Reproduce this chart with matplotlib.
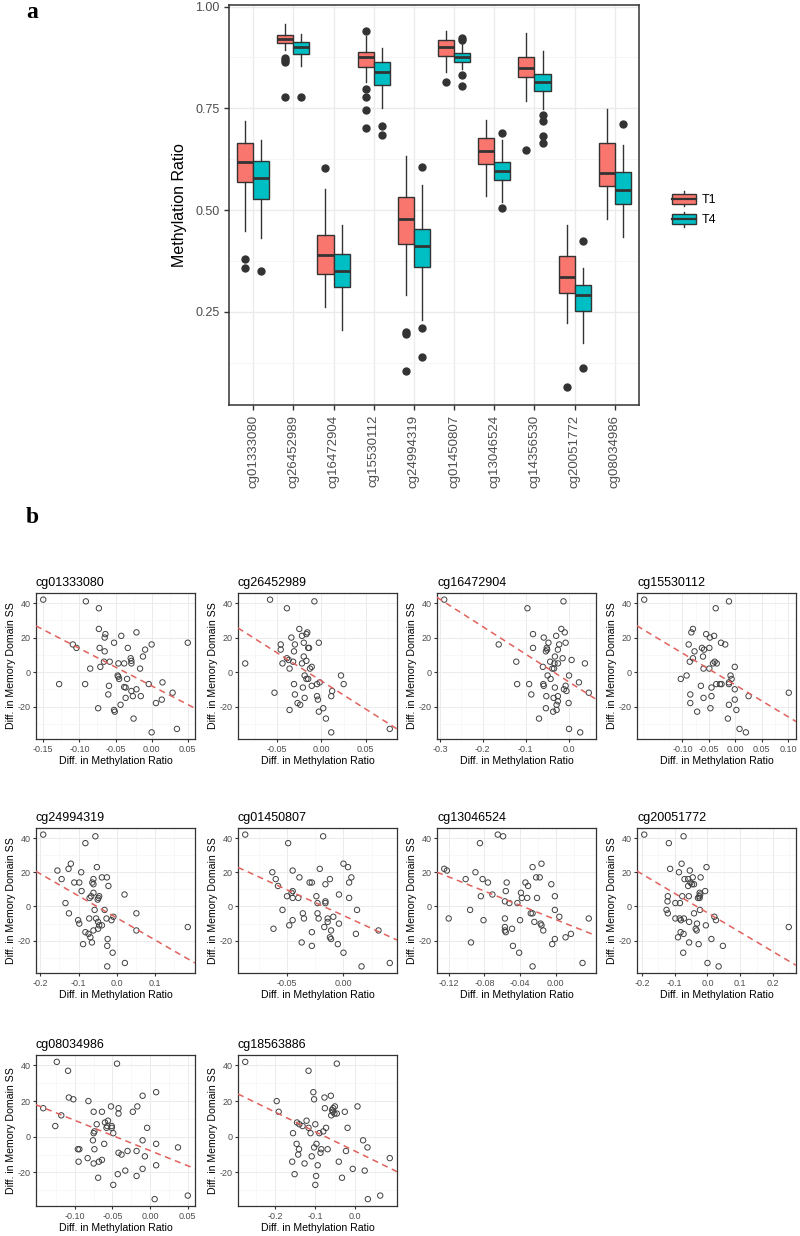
import numpy as np
import matplotlib
matplotlib.use('Agg')
import matplotlib.pyplot as plt
from matplotlib.patches import Rectangle, Patch
from matplotlib.lines import Line2D
from matplotlib.legend_handler import HandlerBase
from matplotlib.ticker import FixedLocator

plt.rcParams['font.family'] = ['Liberation Sans', 'DejaVu Sans']
plt.rcParams['axes.unicode_minus'] = False

# ---- panel a: box summaries ----
probes = ['cg01333080', 'cg26452989', 'cg16472904', 'cg15530112', 'cg24994319',
          'cg01450807', 'cg13046524', 'cg14356530', 'cg20051772', 'cg08034986']

t1_whishi = [0.719, 0.958, 0.553, 0.929, 0.632, 0.940, 0.722, 0.935, 0.463, 0.749]
t1_q3 = [0.666, 0.931, 0.440, 0.888, 0.533, 0.918, 0.678, 0.876, 0.388, 0.665]
t1_med = [0.617, 0.921, 0.389, 0.877, 0.477, 0.902, 0.645, 0.849, 0.335, 0.592]
t1_q1 = [0.569, 0.910, 0.342, 0.851, 0.417, 0.879, 0.613, 0.827, 0.296, 0.560]
t1_whislo = [0.448, 0.893, 0.261, 0.815, 0.292, 0.839, 0.534, 0.768, 0.222, 0.477]
t1_out = [[0.379, 0.357], [0.874, 0.869, 0.865, 0.778], [0.604],
          [0.941, 0.798, 0.778, 0.747, 0.702], [0.200, 0.195, 0.105], [0.816],
          [], [0.647], [0.065], []]

t4_whishi = [0.673, 0.933, 0.463, 0.898, 0.561, 0.908, 0.673, 0.892, 0.357, 0.659]
t4_q3 = [0.621, 0.913, 0.391, 0.863, 0.453, 0.886, 0.619, 0.835, 0.315, 0.593]
t4_med = [0.578, 0.900, 0.350, 0.839, 0.412, 0.876, 0.596, 0.816, 0.292, 0.549]
t4_q1 = [0.527, 0.884, 0.311, 0.807, 0.361, 0.864, 0.574, 0.792, 0.253, 0.516]
t4_whislo = [0.432, 0.855, 0.206, 0.752, 0.230, 0.847, 0.520, 0.749, 0.173, 0.433]
t4_out = [[0.351], [0.778], [], [0.707, 0.685], [0.606, 0.209, 0.139],
          [0.922, 0.917, 0.831, 0.804], [0.690, 0.505], [0.733, 0.719, 0.681, 0.665],
          [0.425, 0.112], [0.711]]

groups = ['T1', 'T4']
group_colors = ['#F8766D', '#00BFC4']

# ---- panel b: scatter values (diff. methylation ratio vs diff. memory SS) ----
x_cg01333080 = [-0.150, -0.091, -0.073, -0.073, -0.064, -0.065, -0.021, -0.042, -0.052, 0.050,
                0.000, -0.109, -0.104, -0.072, -0.033, -0.009, -0.065, -0.012, -0.029, -0.028,
                -0.058, -0.066, -0.046, -0.038, -0.028, -0.085, -0.071, -0.016, -0.047, -0.046,
                -0.045, -0.034, -0.128, -0.092, -0.004, 0.015, -0.059, -0.038, -0.036, -0.021,
                -0.028, -0.060, -0.026, -0.015, -0.036, 0.014, 0.029, 0.006, -0.043, -0.074,
                -0.052, -0.051, -0.025, 0.000, 0.035]
y_cg01333080 = [42, 41, 37, 25, 22, 20, 23, 21, 17, 17, 16, 16, 14, 14, 14, 13, 12, 9, 8, 6.5,
                6, 6, 5, 5, 5, 2, 3, 2, -2, -2.7, -4, -4, -7, -7, -7, -6, -8, -8.7, -9, -10,
                -11, -13, -14, -14, -15, -16, -12, -18, -19, -21, -22, -23, -27, -35, -33]

x_cg26452989 = [-0.086, -0.058, -0.039, -0.008, -0.025, -0.034, -0.022, -0.016, -0.017, -0.046,
                -0.030, -0.020, -0.003, -0.046, -0.031, -0.015, -0.014, -0.020, -0.039, -0.037,
                -0.032, -0.017, -0.022, -0.044, -0.011, -0.036, -0.013, -0.019, 0.022, -0.017,
                -0.015, -0.002, -0.031, 0.025, -0.005, -0.011, -0.021, 0.012, -0.053, -0.030,
                -0.005, 0.011, -0.019, -0.004, -0.027, -0.024, 0.002, -0.003, -0.036, 0.005,
                0.077, 0.011]
y_cg26452989 = [5, 42, 37, 41, 25, 20, 21, 23, 22, 16, 16, 17, 17, 13, 12, 14, 14, 9, 8, 7,
                6, 6.5, 5, 5, 3, 2, 2, -2, -2, -4, -4, -6, -7, -7, -7, -8, -9, -11, -12, -13,
                -14, -14, -15, -16, -18, -19, -21, -23, -22, -27, -33, -35]

x_cg16472904 = [-0.290, -0.012, -0.096, -0.017, -0.009, -0.083, -0.163, -0.058, -0.029, -0.047,
                -0.007, -0.022, -0.083, -0.051, -0.050, -0.025, -0.053, -0.032, -0.014, 0.007,
                -0.122, -0.043, -0.033, -0.025, 0.038, -0.060, -0.038, -0.034, 0.001, -0.049,
                -0.042, -0.120, -0.092, 0.024, 0.047, -0.059, -0.058, -0.007, -0.032, -0.011,
                -0.005, -0.087, -0.052, -0.025, -0.035, -0.025, 0.000, -0.028, -0.053, -0.036,
                -0.028, -0.069, 0.001, 0.027]
y_cg16472904 = [42, 41, 37, 25, 23, 22, 16, 20, 21, 17, 17, 16, 14, 14, 13, 13, 12, 9, 8, 7,
                6, 6, 5, 5, 5, 3, 2, 2, -2, -2, -4, -7, -7, -6, -12, -7, -8, -8, -9, -10,
                -11, -13, -14, -14, -15, -17, -18, -19, -21, -23, -22, -27, -33, -35]

x_cg15530112 = [-0.172, -0.012, -0.037, -0.080, -0.083, -0.055, -0.040, -0.048, -0.027, -0.019,
                -0.088, -0.063, -0.049, -0.059, -0.077, -0.061, -0.080, -0.039, -0.042, -0.035,
                -0.086, -0.049, -0.060, -0.001, -0.092, -0.103, -0.009, -0.007, -0.012, -0.065,
                -0.045, -0.036, -0.029, -0.026, -0.001, -0.012, -0.085, 0.101, 0.025, -0.045,
                -0.001, -0.060, -0.085, -0.012, -0.047, 0.002, -0.072, -0.014, 0.008, 0.020]
y_cg15530112 = [42, 41, 37, 25, 23, 22, 21, 20, 17, 16, 16, 14, 14, 13, 12, 9, 8, 6, 5, 5,
                6, 2, 2, 3, -2, -4, -2, -4, -6, -8, -9, -7, -7, -7, -10, -7, -13, -12, -14, -14,
                -16, -15, -18, -19, -21, -22, -23, -27, -33, -35]

x_cg24994319 = [-0.192, -0.056, -0.082, -0.120, -0.126, -0.155, -0.093, -0.052, -0.144, -0.111,
                -0.098, -0.061, -0.039, -0.026, -0.064, -0.061, -0.022, -0.092, -0.061, -0.046,
                -0.048, -0.067, -0.071, -0.050, 0.020, -0.134, -0.058, -0.032, -0.125, 0.051,
                -0.009, -0.072, -0.054, -0.027, -0.014, -0.101, -0.098, -0.049, -0.046, 0.185,
                -0.039, -0.049, -0.061, 0.051, -0.082, -0.074, -0.069, -0.024, -0.065, -0.088,
                -0.025, -0.011, 0.021, -0.025]
y_cg24994319 = [42, 41, 37, 25, 22, 21, 20, 23, 16, 14, 14, 16, 17, 17, 14, 13, 12, 9, 8, 6,
                5, 6, 5, 4, 7, 2, -2, -2, -4, -4, -6, -7, -7, -7, -8, -8, -10, -9, -11, -12,
                -11, -13, -14, -14, -15, -16, -18, -19, -21, -22, -23, -27, -33, -35]

x_cg01450807 = [-0.087, -0.018, -0.049, 0.000, 0.004, -0.021, -0.045, -0.063, 0.007, -0.039,
                -0.060, -0.012, -0.030, -0.028, 0.005, -0.058, -0.016, -0.045, -0.046, -0.004,
                -0.050, -0.024, -0.045, -0.040, 0.005, -0.016, -0.016, -0.023, -0.054, 0.012,
                -0.036, -0.023, -0.009, -0.035, -0.022, -0.014, -0.014, -0.045, -0.004, -0.017,
                -0.048, -0.011, 0.031, -0.062, 0.011, -0.028, -0.012, -0.011, -0.037, -0.005,
                -0.028, 0.000, 0.041, 0.016]
y_cg01450807 = [42, 41, 37, 25, 23, 22, 21, 20, 17, 17, 16, 16, 14, 14, 14, 12, 13, 9, 8, 7,
                6, 6, 5, 5, 5, 3, 2, 2, -2, -2, -4, -4, -6, -7, -7, -7, -9, -8, -10, -12,
                -11, -14, -14, -13, -16, -15, -18, -19, -21, -22, -23, -27, -33, -35]

x_cg13046524 = [-0.065, -0.059, -0.085, -0.016, -0.026, -0.125, -0.122, -0.090, -0.022, -0.018,
                -0.101, -0.082, -0.076, -0.055, -0.034, -0.005, -0.031, -0.056, -0.039, -0.071,
                -0.084, -0.001, -0.038, -0.032, -0.021, -0.057, -0.052, -0.043, -0.096, -0.001,
                -0.120, 0.004, -0.026, -0.028, 0.037, -0.057, -0.081, -0.040, -0.024, -0.017,
                -0.016, -0.057, -0.057, -0.056, -0.014, -0.049, 0.017, 0.011, -0.001, -0.095,
                -0.004, -0.048, -0.041, 0.030, -0.026]
y_cg13046524 = [42, 41, 37, 25, 23, 22, 21, 20, 17, 17, 16, 16, 14, 14, 14, 13, 12, 9, 8, 7,
                6, 6, 5, 5, 5, 3, 2, 2, -2, -2, -7, -6, -4, -4, -7, -7, -8, -8, -9, -10,
                -11, -12, -14, -15, -14, -13, -16, -18, -19, -21, -22, -23, -27, -33, -35]

x_cg20051772 = [-0.193, -0.073, -0.118, -0.079, -0.003, -0.114, -0.054, -0.087, -0.021, -0.045,
                -0.070, -0.059, -0.052, -0.047, -0.041, -0.059, -0.007, -0.024, -0.022, -0.077,
                -0.057, -0.025, -0.029, -0.024, -0.121, -0.122, -0.098, -0.084, -0.125, -0.023,
                -0.121, -0.041, 0.021, 0.026, -0.098, -0.085, -0.072, -0.081, -0.056, -0.032,
                -0.005, 0.248, -0.036, -0.033, -0.082, -0.073, 0.012, -0.090, -0.056, -0.027,
                0.047, -0.074, 0.000, 0.034]
y_cg20051772 = [42, 41, 37, 25, 23, 22, 21, 20, 17, 17, 16, 16, 14, 13, 13, 12, 9, 8, 7, 6,
                6, 6, 5, 5, 6, 3, 2, 2, -2, -2, -4, -4, -6, -8, -7, -7, -7, -8, -9, -10,
                -11, -12, -13, -14, -15, -16, -19, -18, -21, -22, -23, -27, -33, -35]

x_cg08034986 = [-0.142, -0.124, -0.044, -0.109, -0.108, -0.102, 0.008, -0.010, -0.082, -0.052,
                -0.017, -0.042, -0.118, -0.075, -0.064, -0.023, -0.042, -0.126, -0.071, -0.060,
                -0.056, -0.057, -0.051, -0.051, -0.074, -0.075, -0.049, -0.004, -0.058, -0.076,
                -0.010, -0.061, -0.096, -0.094, -0.074, 0.008, 0.037, -0.030, -0.018, -0.042,
                -0.038, -0.007, -0.083, -0.064, -0.095, -0.068, -0.075, 0.008, -0.010, -0.033,
                -0.043, -0.018, -0.069, -0.049, 0.050, 0.006]
y_cg08034986 = [16, 42, 41, 37, 22, 21, 25, 23, 20, 17, 17, 16, 12, 14, 14, 14, 13, 6, 7, 8,
                9, 6, 6, 5, 3, 2, 2, 5, 5, -2, -2, -4, -7, -7, -7, -4, -6, -8, -8, -9,
                -10, -11, -12, -13, -14, -14, -15, -16, -18, -19, -21, -22, -23, -27, -33, -35]

x_cg18563886 = [-0.276, -0.046, -0.117, -0.105, -0.061, -0.197, -0.192, -0.103, -0.077, -0.051,
                -0.055, -0.076, 0.006, -0.058, -0.056, -0.026, -0.046, -0.060, -0.052, -0.122,
                -0.146, -0.100, -0.132, -0.117, -0.073, -0.019, -0.140, -0.156, -0.112, -0.080,
                -0.090, 0.020, 0.031, -0.147, -0.097, -0.141, -0.085, -0.103, -0.069, -0.023,
                -0.087, -0.143, -0.109, 0.087, -0.041, -0.158, -0.127, -0.094, -0.006, 0.024,
                -0.152, -0.098, -0.033, -0.100, 0.063, 0.032]
y_cg18563886 = [42, 41, 37, 25, 23, 20, 14, 21, 22, 17, 16, 16, 17, 15, 14, 14, 13, 12, 13, 9,
                8, 7, 6, 5, 5, 5, 7, 2, 2, 3, 2, -2, -6, -4, -4, -7, -7, -6, -7, -8,
                -9, -10, -11, -12, -14, -14, -15, -16, -18, -19, -21, -22, -23, -27, -33, -35]

scatter_titles = ['cg01333080', 'cg26452989', 'cg16472904', 'cg15530112', 'cg24994319',
                  'cg01450807', 'cg13046524', 'cg20051772', 'cg08034986', 'cg18563886']
scatter_x = [x_cg01333080, x_cg26452989, x_cg16472904, x_cg15530112, x_cg24994319,
             x_cg01450807, x_cg13046524, x_cg20051772, x_cg08034986, x_cg18563886]
scatter_y = [y_cg01333080, y_cg26452989, y_cg16472904, y_cg15530112, y_cg24994319,
             y_cg01450807, y_cg13046524, y_cg20051772, y_cg08034986, y_cg18563886]

# dashed fitted lines as drawn in the figure (slope, intercept)
fit_slope = [-217.2, -326.7, -159.5, -184.8, -129.1, -301.4, -207.9, -113.4, -169.8, -109.1]
fit_intercept = [-8.0, -5.2, -5.6, -7.5, -6.7, -5.3, -7.65, -3.7, -7.8, -8.1]

x_tick_labels = [['-0.15', '-0.10', '-0.05', '0.00', '0.05'],
                 ['-0.05', '0.00', '0.05'],
                 ['-0.3', '-0.2', '-0.1', '0.0'],
                 ['-0.10', '-0.05', '0.00', '0.05', '0.10'],
                 ['-0.2', '-0.1', '0.0', '0.1'],
                 ['-0.05', '0.00'],
                 ['-0.12', '-0.08', '-0.04', '0.00'],
                 ['-0.2', '-0.1', '0.0', '0.1', '0.2'],
                 ['-0.10', '-0.05', '0.00', '0.05'],
                 ['-0.2', '-0.1', '0.0']]
y_tick_labels = ['-20', '0', '20', '40']

# ---- styling ----
DARK = '#333333'
TICKTXT = '#4D4D4D'
GRID = '#EBEBEB'
GRID_MINOR = '#F4F4F4'

W, H = 800, 1236
fig = plt.figure(figsize=(W / 100, H / 100), dpi=100)


def px_axes(left, top, right, bottom):
    return fig.add_axes([left / W, 1 - bottom / H, (right - left) / W, (bottom - top) / H])


def style_bw(ax, lw=1.0):
    for s in ax.spines.values():
        s.set_color(DARK)
        s.set_linewidth(lw)
    ax.set_axisbelow(True)


# panel a ---------------------------------------------------------------
ax = px_axes(229, 5, 639, 405)
style_bw(ax, 1.1)
pos = np.arange(len(probes))
for g, (lo, q1, med, q3, hi, out) in enumerate([
        (t1_whislo, t1_q1, t1_med, t1_q3, t1_whishi, t1_out),
        (t4_whislo, t4_q1, t4_med, t4_q3, t4_whishi, t4_out)]):
    stats = [dict(whislo=lo[i], q1=q1[i], med=med[i], q3=q3[i], whishi=hi[i], fliers=out[i])
             for i in range(len(probes))]
    ax.bxp(stats, positions=pos + (g - 0.5) * 0.4, widths=0.4, patch_artist=True,
           showcaps=False,
           boxprops=dict(facecolor=group_colors[g], edgecolor=DARK, linewidth=1.0),
           medianprops=dict(color=DARK, linewidth=2.0),
           whiskerprops=dict(color=DARK, linewidth=1.0),
           flierprops=dict(marker='o', markerfacecolor=DARK, markeredgecolor=DARK,
                           markersize=5))

ax.set_xlim(-0.6, len(probes) - 0.4)
ax.set_ylim(0.021, 1.004)
ax.set_xticks(pos)
ax.set_xticklabels(probes, rotation=90, fontsize=9.5, color=TICKTXT)
ax.set_yticks([0.25, 0.50, 0.75, 1.00])
ax.set_yticklabels(['0.25', '0.50', '0.75', '1.00'], fontsize=9, color=TICKTXT)
ax.yaxis.set_minor_locator(FixedLocator([0.125, 0.375, 0.625, 0.875]))
ax.tick_params(which='major', length=3.5, color=DARK, width=1)
ax.tick_params(which='minor', length=0)
ax.grid(True, which='major', color=GRID, linewidth=1.0)
ax.grid(True, which='minor', axis='y', color=GRID_MINOR, linewidth=0.6)
ax.set_ylabel('Methylation Ratio', fontsize=11.5, labelpad=6)


class BoxKey(HandlerBase):
    def create_artists(self, legend, orig_handle, xdescent, ydescent, width, height,
                       fontsize, trans):
        x0, y0 = -xdescent, -ydescent
        cx = x0 + width / 2
        rect = Rectangle((x0, y0 + height * 0.15), width, height * 0.7,
                         facecolor=orig_handle.get_facecolor(), edgecolor=DARK, lw=1.0,
                         transform=trans)
        med = Line2D([x0, x0 + width], [y0 + height / 2] * 2, color=DARK, lw=1.6,
                     transform=trans)
        w1 = Line2D([cx, cx], [y0, y0 + height * 0.15], color=DARK, lw=1.0, transform=trans)
        w2 = Line2D([cx, cx], [y0 + height * 0.85, y0 + height], color=DARK, lw=1.0,
                    transform=trans)
        return [w1, w2, rect, med]


handles = [Patch(facecolor=c) for c in group_colors]
fig.legend(handles, groups, loc='center left', bbox_to_anchor=(672 / W, 1 - 209 / H),
           frameon=False, handler_map={Patch: BoxKey()}, fontsize=9,
           handlelength=1.9, handleheight=1.45, handletextpad=0.5, labelspacing=0.45,
           borderpad=0, borderaxespad=0)

# panel b ---------------------------------------------------------------
row_bounds = [(593, 739), (828, 973), (1055, 1206)]
col_left = [36, 238, 437, 637]
panel_w = 159

for k, name in enumerate(scatter_titles):
    r, c = divmod(k, 4)
    top, bottom = row_bounds[r]
    sx = np.array(scatter_x[k])
    sy = np.array(scatter_y[k])
    ax = px_axes(col_left[c], top, col_left[c] + panel_w, bottom)
    style_bw(ax, 0.9)
    ax.scatter(sx, sy, s=15, facecolors='none', edgecolors='#404040', linewidths=0.7,
               zorder=3)
    ax.margins(0.05)
    xl = ax.get_xlim()
    yl = ax.get_ylim()
    xx = np.array(xl)
    ax.plot(xx, fit_intercept[k] + fit_slope[k] * xx, ls=(0, (4, 3)), color='#E0625C',
            lw=1.1, zorder=4)
    ax.set_xlim(xl)
    ax.set_ylim(yl)

    xt = [float(t) for t in x_tick_labels[k]]
    ax.set_xticks(xt)
    ax.set_xticklabels(x_tick_labels[k], fontsize=6.5, color=TICKTXT)
    yt = [float(t) for t in y_tick_labels]
    ax.set_yticks(yt)
    ax.set_yticklabels(y_tick_labels, fontsize=6.5, color=TICKTXT)
    step = xt[1] - xt[0]
    ax.xaxis.set_minor_locator(FixedLocator(np.arange(xt[0] - step * 1.5, xt[-1] + step, step)))
    ax.yaxis.set_minor_locator(FixedLocator([-30, -10, 10, 30]))
    ax.tick_params(which='major', length=2.5, color=DARK, width=0.8, pad=1.5)
    ax.tick_params(which='minor', length=0)
    ax.grid(True, which='major', color=GRID, linewidth=0.7)
    ax.grid(True, which='minor', color=GRID_MINOR, linewidth=0.45)
    ax.set_title(name, loc='left', fontsize=9, pad=5)
    ax.set_xlabel('Diff. in Methylation Ratio', fontsize=7.6, labelpad=2)
    ax.set_ylabel('Diff. in Memory Domain SS', fontsize=7.6, labelpad=1)

# panel letters
fig.text(26 / W, 1 - 18 / H, 'a', family='Liberation Serif', weight='bold', fontsize=17,
         va='baseline')
fig.text(26 / W, 1 - 523 / H, 'b', family='Liberation Serif', weight='bold', fontsize=17,
         va='baseline')

fig.savefig('out.png', dpi=100)
